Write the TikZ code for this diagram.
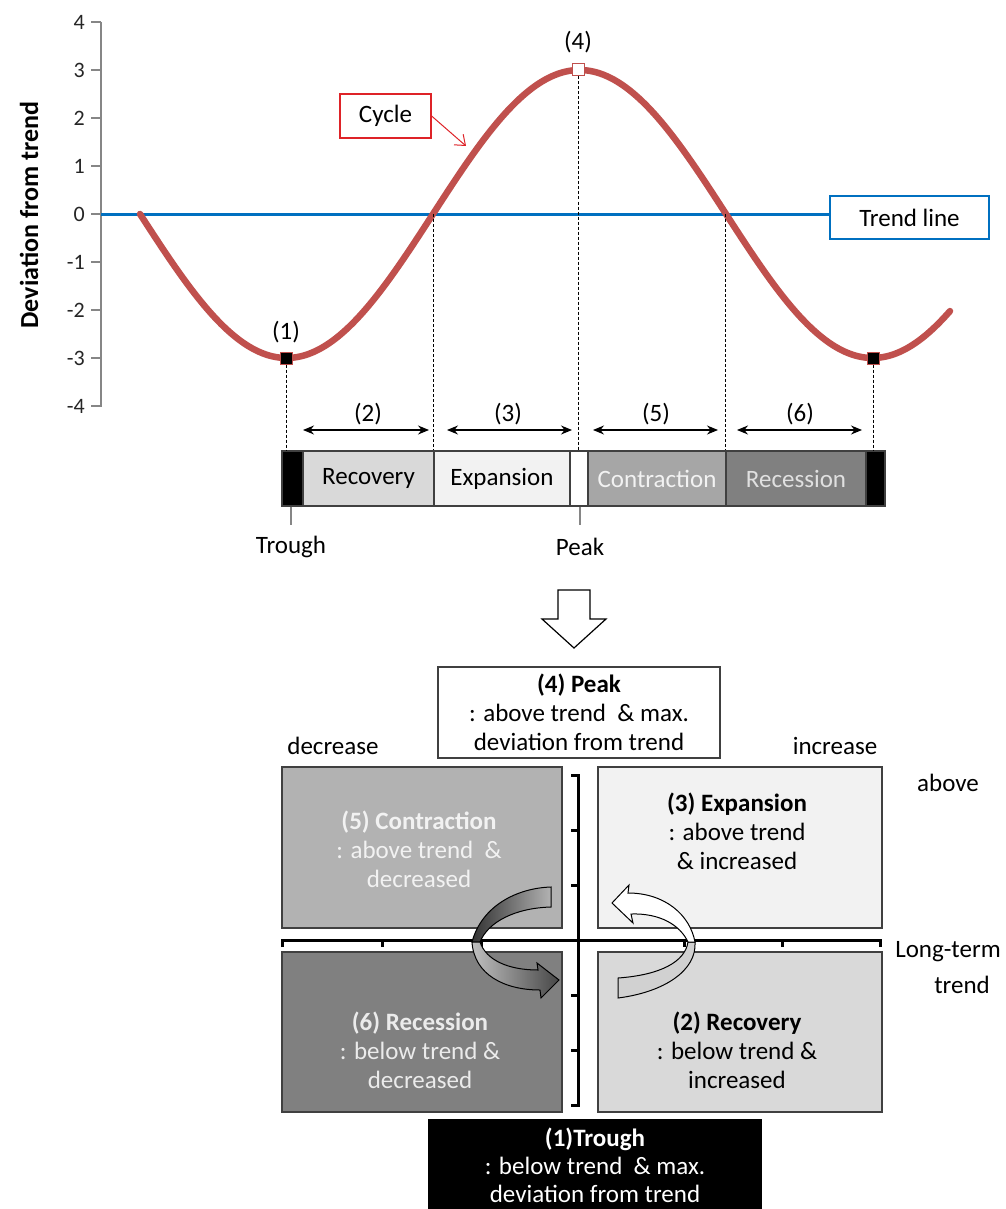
\documentclass[tikz,border=0pt]{standalone}
\usepackage{fontspec}
\setmainfont{Carlito}
\usetikzlibrary{arrows.meta}
\definecolor{cyc}{RGB}{192,80,77}
\definecolor{trendc}{RGB}{0,112,192}
\definecolor{redbox}{RGB}{222,35,40}
\definecolor{axgray}{RGB}{134,134,134}
\definecolor{boxedge}{RGB}{64,64,64}
\definecolor{recov}{RGB}{217,217,217}
\definecolor{expan}{RGB}{242,242,242}
\definecolor{contr}{RGB}{166,166,166}
\definecolor{reces}{RGB}{128,128,128}
\definecolor{qcontr}{RGB}{178,178,178}
\definecolor{qreces}{RGB}{128,128,128}
\newcommand\mainfs{\fontsize{25}{29}\selectfont}
\newcommand\tickfs{\fontsize{22}{25}\selectfont}
\begin{document}
\begin{tikzpicture}[x=1pt,y=-1pt,
  seg/.style={draw=boxedge, line width=1.2, minimum height=55, inner sep=0, font=\mainfs},
  quad/.style={draw=boxedge, line width=1.5, inner sep=0},
  qtext/.style={align=center, font=\mainfs, inner sep=0},
  lbl/.style={font=\mainfs, inner sep=0},
  vline/.style={densely dashed, line width=0.8},
  dbl/.style={{Stealth[length=11pt,width=9pt]}-{Stealth[length=11pt,width=9pt]}, line width=1.2},
  mk/.style={draw=cyc, line width=1, minimum size=12, inner sep=0},
  qaxis/.style={line width=3},
  ribbon/.style={draw=black, line width=1},
]
\useasboundingbox[fill=white] (0,0) rectangle (1005,1209);

% ---------- top chart ----------
\draw[axgray, line width=1.2] (101,22) -- (101,407);
\foreach \v [count=\i] in {4,3,2,1,0,-1,-2,-3,-4} {
  \draw[axgray, line width=1.2] (91,{214-48*\v}) -- (101,{214-48*\v});
  \node[anchor=east, font=\tickfs, inner sep=0, text=black!85] (ytick\i) at (85,{214-48*\v}) {\v};
}
\node[rotate=90, font=\bfseries\fontsize{26}{30}\selectfont] (ytitle) at (29,215) {Deviation from trend};

\coordinate (o) at (101,214);
\node[draw=trendc, line width=1.2, minimum width=159, minimum height=43, font=\mainfs, inner sep=0] (trend) at (909.5,217.5) {Trend line};
\draw[trendc, line width=3] (o) -- (o -| trend.west);

\draw[cyc, line width=6.5, line cap=round] plot[domain=0:810, samples=160, smooth] ({140+\x},{214+144*sin(\x/146.5*90)});

\node[draw=redbox, line width=1.2, minimum width=91, minimum height=44, font=\mainfs, inner sep=0] (cycle) at (385.5,116) {Cycle};
\coordinate (cyctip) at (466,146);
\draw[redbox, line width=1, -{Straight Barb[length=9pt,width=14pt]}] (cycle.east) -- (cyctip);

\coordinate (z1) at (433,214);
\coordinate (z2) at (725,214);

% bar
\node[seg, fill=black, minimum width=21] (b0) at (292.5,478.5) {};
\node[seg, fill=recov, minimum width=131] (b1) at (368.5,478.5) {Recovery};
\node[seg, fill=expan, minimum width=136] (b2) at (502,478.5) {Expansion};
\node[seg, fill=white, minimum width=18] (b3) at (579,478.5) {};
\node[seg, fill=contr, minimum width=138, text=white!95!black] (b4) at (657,478.5) {Contraction};
\node[seg, fill=reces, minimum width=140, text=white!88!black] (b5) at (796,478.5) {Recession};
\node[seg, fill=black, minimum width=19] (b6) at (875.5,478.5) {};

% markers
\node[mk, fill=black] (m1) at (286,358) {};
\node[mk, fill=white] (m4) at (578,70) {};
\node[mk, fill=black] (m6) at (873,358) {};
\node[lbl] (l1) at (286,332) {(1)};
\node[lbl] (l4) at (578,42) {(4)};

% dashed drop lines
\draw[vline] (m1.south) -- (m1.south |- b1.north);
\draw[vline] (z1) -- (z1 |- b1.north);
\draw[vline] (m4.south) -- (m4.south |- b1.north);
\draw[vline] (z2) -- (z2 |- b1.north);
\draw[vline] (m6.south) -- (m6.south |- b1.north);

% double arrows
\coordinate (a2l) at (303,430); \coordinate (a2r) at (429,430);
\coordinate (a3l) at (447,430); \coordinate (a3r) at (572,430);
\coordinate (a5l) at (593,430); \coordinate (a5r) at (718,430);
\coordinate (a6l) at (737,430); \coordinate (a6r) at (862,430);
\draw[dbl] (a2l) -- (a2r);
\draw[dbl] (a3l) -- (a3r);
\draw[dbl] (a5l) -- (a5r);
\draw[dbl] (a6l) -- (a6r);
\node[lbl] (n2) at (368,414) {(2)};
\node[lbl] (n3) at (508,414) {(3)};
\node[lbl] (n5) at (656,414) {(5)};
\node[lbl] (n6) at (800,414) {(6)};

% trough / peak ticks
\node[lbl] (troughlbl) at (291,547) {Trough};
\node[lbl] (peaklbl) at (580,547) {Peak};
\coordinate (tt) at (291,525);
\coordinate (pt) at (580,525);
\draw[axgray, line width=1.5] (tt |- b0.south) -- (tt);
\draw[axgray, line width=1.5] (pt |- b3.south) -- (pt);

% ---------- block arrow ----------
\draw[line width=1.2, fill=white] (558,590) -- (590,590) -- (590,619) -- (606,619) -- (574,648) -- (542,619) -- (558,619) -- cycle;

% ---------- lower diagram ----------
\node[draw=boxedge, line width=1.5, minimum width=282, minimum height=91, align=center, font=\mainfs, fill=white, inner sep=0] (peak) at (579,712.5)
  {\textbf{(4) Peak}\\: above trend \ \& max.\\deviation from trend};

\node[lbl] (decr) at (333,746) {decrease};
\node[lbl] (incr) at (835,746) {increase};
\node[lbl] (abv) at (948,783) {above};
\node[lbl] (lt1) at (948,952) {Long-term};
\node[lbl] (lt2) at (962,985) {trend};

\node[quad, fill=qcontr, minimum width=280, minimum height=161] (qc) at (422,847.5) {};
\node[quad, fill=expan, minimum width=284, minimum height=161] (qe) at (740,847.5) {};
\node[quad, fill=qreces, minimum width=280, minimum height=160] (qr) at (422,1032) {};
\node[quad, fill=recov, minimum width=284, minimum height=160] (qv) at (740,1032) {};

\node[qtext, text=white!95!black] (tc) at (419,849) {\textbf{(5) Contraction}\\: above trend \ \&\\decreased};
\node[qtext] (te) at (737,831) {\textbf{(3) Expansion}\\: above trend\\\& increased};
\node[qtext, text=white!92!black] (tr) at (420,1050) {\textbf{(6) Recession}\\: below trend \&\\decreased};
\node[qtext] (tv) at (737,1050) {\textbf{(2) Recovery}\\: below trend \&\\increased};

% axes
\draw[qaxis] (282,947) -- (282,940) -- (880,940) -- (880,947);
\foreach \t in {382,481,684,782} \draw[qaxis] (\t,940) -- (\t,947);
\draw[qaxis] (571,775) -- (578,775) -- (578,1105) -- (571,1105);
\foreach \t in {830,885,995,1050} \draw[qaxis] (578,\t) -- (571,\t);

% curved arrows (left, dark)
\draw[ribbon, left color=black!80, right color=black!30] (551,887) .. controls (518,888) and (482,905) .. (472,942) -- (480,942) .. controls (488,922) and (515,908) .. (551,907) -- cycle;
\draw[ribbon, left color=black!25, right color=black!72] (472,942) .. controls (474,975) and (505,990) .. (540,990) -- (541,998) -- (559,980) -- (537,963) -- (538,970) .. controls (508,970) and (486,960) .. (480,942) -- cycle;
% curved arrows (right, light)
\draw[ribbon, fill=black!18] (695,942) .. controls (697,970) and (665,992) .. (618,998) -- (618,978) .. controls (660,975) and (685,962) .. (688,942) -- cycle;
\draw[ribbon, fill=white] (612,903) -- (629,885) -- (628,893) .. controls (665,893) and (690,915) .. (695,942) -- (688,942) .. controls (680,925) and (660,913) .. (631,914) -- (633,923) -- cycle;

% trough box
\node[fill=black, minimum width=334, minimum height=92, align=center, text=white, font=\fontsize{25}{28}\selectfont, inner sep=0] (trough) at (595,1165)
  {\textbf{(1)Trough}\\: below trend \ \& max.\\deviation from trend};
\end{tikzpicture}
\end{document}
